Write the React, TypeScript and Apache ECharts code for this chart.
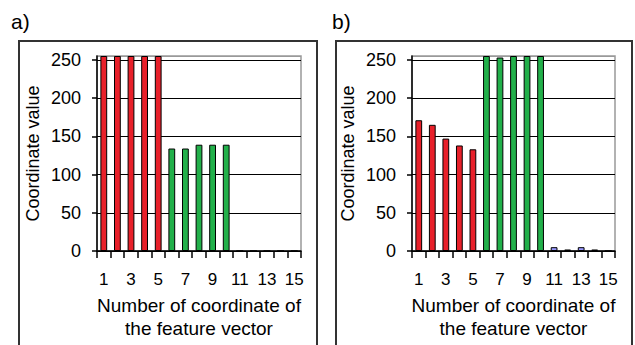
import React, { useEffect, useRef } from "react";
import * as echarts from "echarts";

const categories = ["1", "2", "3", "4", "5", "6", "7", "8", "9", "10", "11", "12", "13", "14", "15"];
const valuesA = [255, 255, 255, 255, 255, 134, 134, 139, 139, 139, 0, 0, 0, 0, 0];
const valuesB = [171, 165, 147, 138, 133, 255, 253, 255, 255, 255, 5, 2, 5, 2, 0];
const colorsA = ["#e8202a", "#e8202a", "#e8202a", "#e8202a", "#e8202a", "#22b04a", "#22b04a", "#22b04a", "#22b04a", "#22b04a", "#9999ff", "#9999ff", "#9999ff", "#9999ff", "#9999ff"];
const colorsB = colorsA;
const yTicks = [0, 50, 100, 150, 200, 250];
const panelLabels = ["a)", "b)"];
const yName = "Coordinate value";
const xName = "Number of coordinate of\nthe feature vector";

const FONT = "'Liberation Sans', Arial, sans-serif";

export default function App() {
  const ref = useRef<HTMLDivElement>(null);
  useEffect(() => {
    if (!ref.current) return;
    const chart = echarts.init(ref.current, undefined, { renderer: "svg" });
    const grids = [
      { left: 97, right: 334, top: 56, bottom: 89 },
      { left: 412, right: 20, top: 56, bottom: 90 },
    ];
    const xAxes = grids.map((_, i) => ({
      type: "category",
      gridIndex: i,
      data: categories,
      boundaryGap: true,
      name: xName,
      nameLocation: "middle",
      nameGap: 43,
      nameTextStyle: { fontFamily: FONT, fontSize: 19, color: "#000", lineHeight: 23 },
      axisLine: { show: true, lineStyle: { color: "#000", width: 1.5 } },
      axisTick: { show: true, interval: 0, alignWithLabel: false, length: 7, lineStyle: { color: "#000", width: 1.5 } },
      axisLabel: { interval: 1, margin: 20, fontFamily: FONT, fontSize: 17, color: "#000" },
      splitLine: { show: false },
    }));
    const yAxes = grids.map((_, i) => ({
      type: "value",
      gridIndex: i,
      min: 0,
      max: 255,
      interval: 50,
      name: yName,
      nameLocation: "middle",
      nameGap: 55,
      nameTextStyle: { fontFamily: FONT, fontSize: 18, color: "#000" },
      axisLine: { show: true, lineStyle: { color: "#000", width: 1.5 } },
      axisTick: { show: true, length: 5, lineStyle: { color: "#000", width: 1.5 } },
      axisLabel: {
        margin: 16,
        fontFamily: FONT,
        fontSize: 18,
        color: "#000",
        showMaxLabel: false,
        formatter: (v: number) => (yTicks.indexOf(v) >= 0 ? String(v) : ""),
      },
      splitLine: {
        show: true,
        lineStyle: { color: ["#000", "#000", "#000", "#000", "#000", "#000", "#999"], width: 1.2 },
      },
    }));
    const mk = (vals: number[], cols: string[], i: number) => ({
      type: "bar",
      xAxisIndex: i,
      yAxisIndex: i,
      barWidth: "50%",
      data: vals.map((v, k) => ({
        value: v,
        itemStyle: { color: cols[k], borderColor: "#000", borderWidth: 1 },
      })),
    });
    chart.setOption({
      animation: false,
      backgroundColor: "#fff",
      grid: grids.map((g) => ({ ...g, show: true, borderColor: "#999", borderWidth: 1.5, backgroundColor: "transparent" })),
      xAxis: xAxes,
      yAxis: yAxes,
      series: [mk(valuesA, colorsA, 0), mk(valuesB, colorsB, 1)],
      graphic: [
        { type: "rect", shape: { x: 19, y: 41, width: 298, height: 330 }, style: { fill: "none", stroke: "#333", lineWidth: 2 }, z: 100 },
        { type: "rect", shape: { x: 336, y: 41, width: 296, height: 330 }, style: { fill: "none", stroke: "#333", lineWidth: 2 }, z: 100 },
        { type: "text", x: 11, y: 11, style: { text: panelLabels[0], fontFamily: FONT, fontSize: 21, fill: "#000" } },
        { type: "text", x: 332, y: 11, style: { text: panelLabels[1], fontFamily: FONT, fontSize: 21, fill: "#000" } },
      ],
    });
    return () => chart.dispose();
  }, []);
  return <div ref={ref} style={{ position: "absolute", left: 0, top: 0, width: 635, height: 345 }} />;
}
